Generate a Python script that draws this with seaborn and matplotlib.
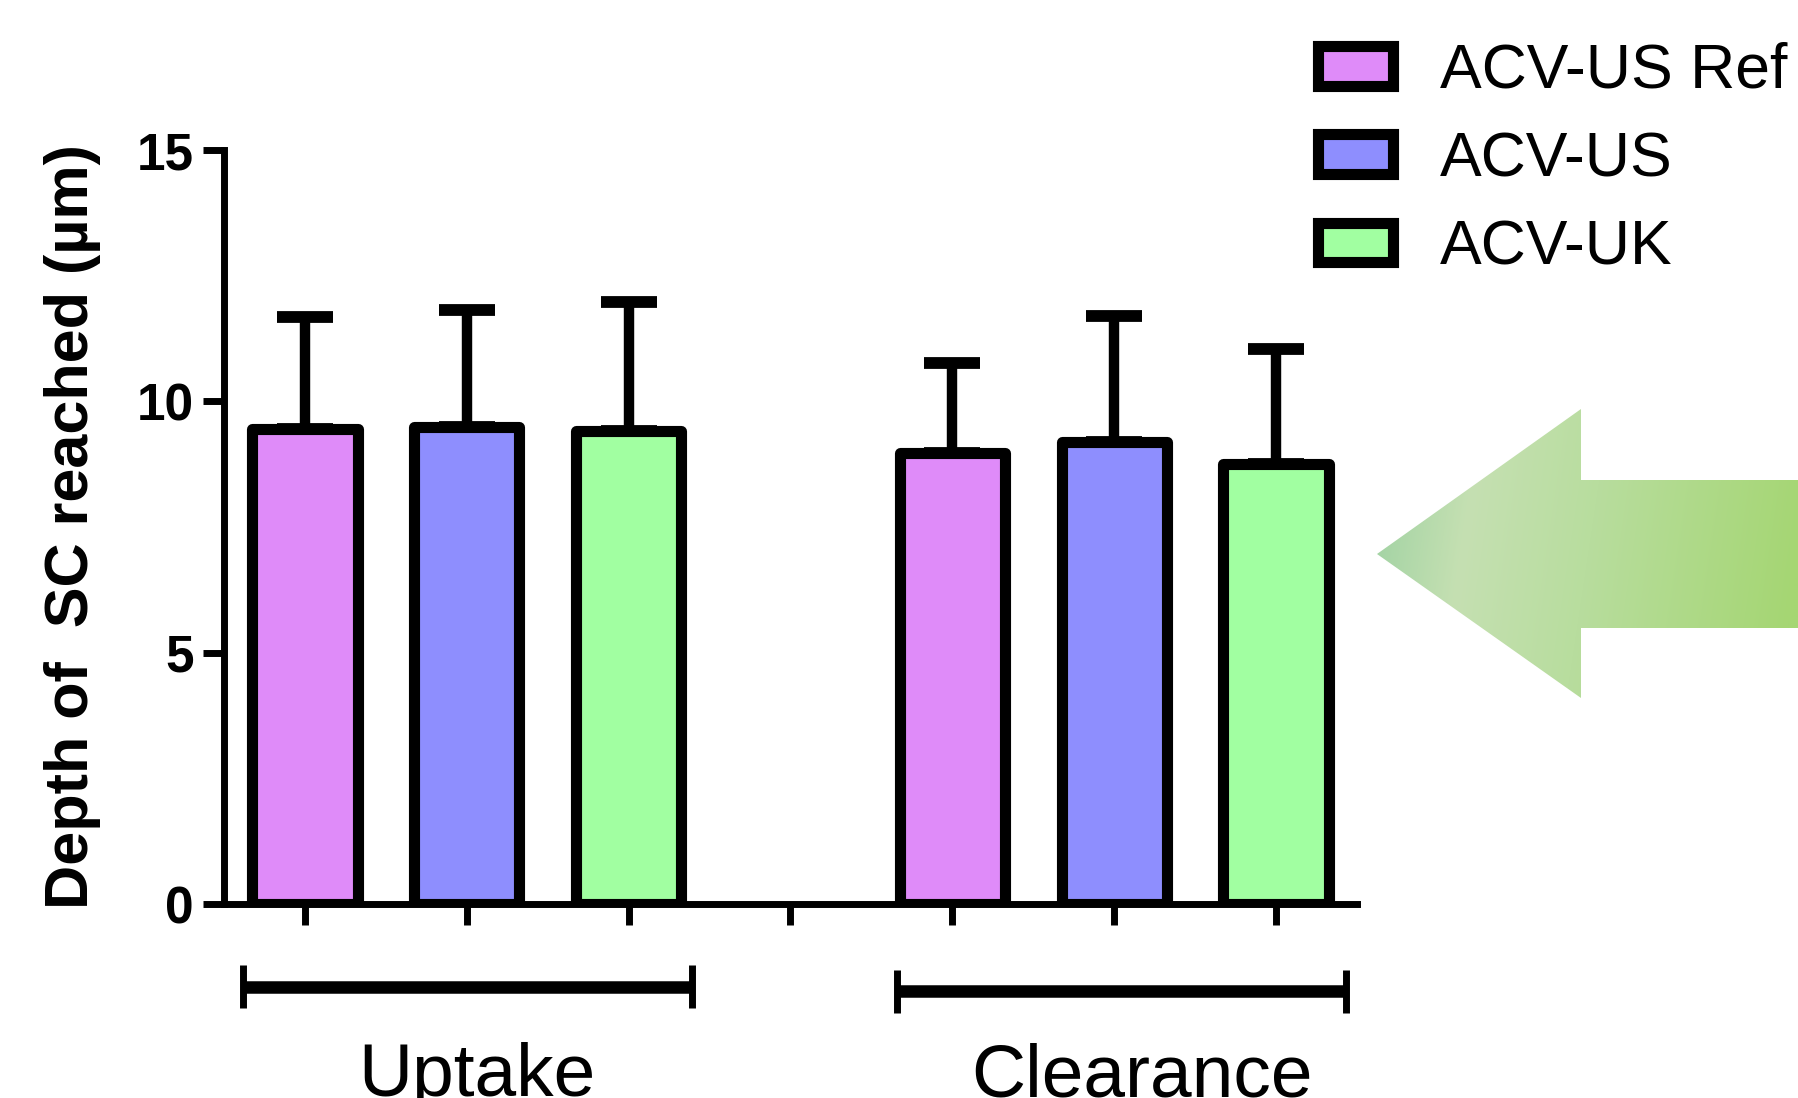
import numpy as np
import pandas as pd
import seaborn as sns
import matplotlib.pyplot as plt
from matplotlib import font_manager
from matplotlib.patches import Patch, Polygon
from matplotlib.transforms import blended_transform_factory

# values
phases = ['Uptake', 'Clearance']
formulations = ['ACV-US Ref', 'ACV-US', 'ACV-UK']
colors = ['#DF8BF9', '#8E8EFE', '#A1FFA1']
uptake_mean = [9.44, 9.49, 9.40]
uptake_sd = [2.23, 2.33, 2.58]
clearance_mean = [8.97, 9.19, 8.75]
clearance_sd = [1.80, 2.51, 2.29]
yticks = [0, 5, 10, 15]

plt.rcParams['font.family'] = ['Liberation Sans', 'DejaVu Sans']

try:
    font_manager.findfont('Liberation Sans Narrow', fallback_to_default=False)
    narrow = 'Liberation Sans Narrow'
    narrow_size = 60
except Exception:
    narrow = 'Liberation Sans'
    narrow_size = 54

# 7 slots: three uptake bars, a gap, three clearance bars
slots = ['u0', 'u1', 'u2', 'gap', 'c0', 'c1', 'c2']
df = pd.DataFrame({
    'slot': ['u0', 'u1', 'u2', 'c0', 'c1', 'c2'],
    'formulation': formulations * 2,
    'depth': uptake_mean + clearance_mean,
    'sd': uptake_sd + clearance_sd,
})
pos = [slots.index(s) for s in df['slot']]

W, H = 1799, 1098
fig = plt.figure(figsize=(W / 100, H / 100), dpi=100)
ax = fig.add_axes([224 / W, 1 - 904 / H, 1133 / W, 754 / H])

sns.barplot(data=df, x='slot', y='depth', hue='formulation', order=slots,
            hue_order=formulations, palette=colors, saturation=1, dodge=False,
            width=0.65, errorbar=None, edgecolor='black', linewidth=8, ax=ax,
            legend=False)
for p in ax.patches:
    p.set_joinstyle('round')
    p.set_zorder(2)

ax.errorbar(pos, df['depth'], yerr=[np.zeros(len(df)), df['sd']], fmt='none',
            ecolor='black', elinewidth=7.5, capsize=20, capthick=8.5, zorder=1)

ax.set_xlim(-0.5, 6.5)
ax.set_ylim(0, 15)
ax.set_yticks(yticks)
ax.set_yticklabels([str(t) for t in yticks], fontsize=37, fontweight='bold')
ax.set_xticks(range(len(slots)))
ax.set_xticklabels([''] * len(slots))
ax.set_xlabel('')
ax.set_ylabel('Depth of  SC reached (\u00b5m)', fontsize=44, fontweight='bold')
ax.yaxis.set_label_coords(-0.109, 0.5)
ax.tick_params(axis='both', width=5, length=15, color='black')
ax.tick_params(axis='y', pad=7)
for side in ['top', 'right']:
    ax.spines[side].set_visible(False)
for side in ['left', 'bottom']:
    ax.spines[side].set_linewidth(5)
    ax.spines[side].set_color('black')

# group brackets under the axis
tr = blended_transform_factory(ax.transData, ax.transAxes)
brackets = [(-0.383, 2.39, -0.110), (3.657, 6.43, -0.1154)]
label_x = [1.06, 5.17]
for (x0, x1, yb), name, lx in zip(brackets, phases, label_x):
    ax.plot([x0, x1], [yb, yb], color='black', lw=9, transform=tr,
            clip_on=False, solid_capstyle='butt')
    for xe in (x0, x1):
        ax.plot([xe, xe], [yb - 0.0285, yb + 0.0285], color='black', lw=5,
                transform=tr, clip_on=False, solid_capstyle='butt')
    ax.text(lx, -0.255, name, transform=tr, ha='center', va='baseline',
            fontsize=narrow_size, family=narrow)

handles = [Patch(facecolor=c, edgecolor='black', linewidth=8, joinstyle='round')
           for c in colors]
ax.legend(handles, formulations, loc='upper left', bbox_to_anchor=(1318 / W, 0.962),
          bbox_transform=fig.transFigure, frameon=False, fontsize=45,
          handlelength=1.2, handleheight=0.6, handletextpad=0.75,
          labelspacing=0.47, borderpad=0, borderaxespad=0)

# gradient arrow on the right
ax2 = fig.add_axes([0, 0, 1, 1])
ax2.axis('off')
ax2.patch.set_visible(False)
pts = [(1377, 554), (1581, 409), (1581, 480), (1799, 480), (1799, 628),
       (1581, 628), (1581, 698)]
poly = Polygon(pts, closed=True, facecolor='none', edgecolor='none')
ax2.add_patch(poly)
gx, gy = np.meshgrid(np.linspace(1377, 1799, 300), np.linspace(409, 698, 200))
t = (gx - 1377 + 0.15 * (gy - 554)) / 422
t = np.clip(t, 0, 1)
stops = [0, 0.2, 0.5, 1.0]
cols = np.array([[165, 212, 165], [197, 224, 178], [184, 221, 158], [165, 214, 115]]) / 255
img = np.dstack([np.interp(t, stops, cols[:, k]) for k in range(3)])
im = ax2.imshow(img, extent=(1377, 1799, 698, 409), aspect='auto', interpolation='bilinear')
im.set_clip_path(poly)
ax2.set_xlim(0, W)
ax2.set_ylim(H, 0)

fig.savefig('out.png', dpi=100)
